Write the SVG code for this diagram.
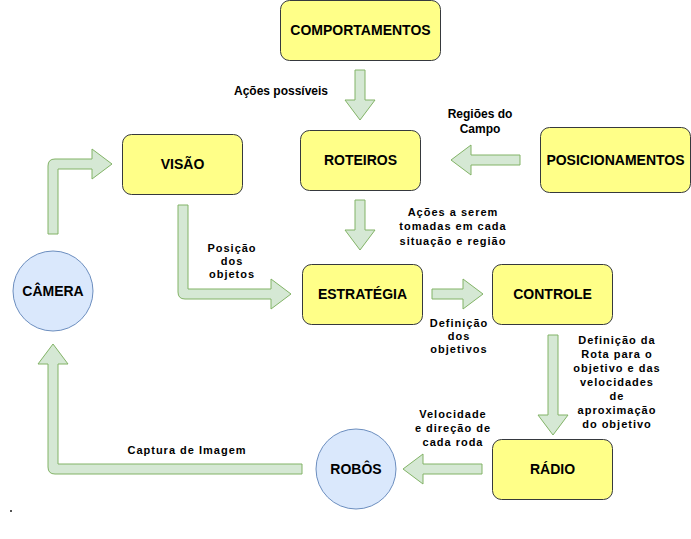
<svg xmlns="http://www.w3.org/2000/svg" width="691" height="539" viewBox="0 0 691 539">
<style>
.box{fill:#ffff88;stroke:#36393d;stroke-width:1}
.circ{fill:#dae8fc;stroke:#6c8ebf;stroke-width:1}
.arr{fill:#d5e8d4;stroke:#82b366;stroke-width:1;stroke-linejoin:miter}
.nl{font-family:"Liberation Sans",Arial,sans-serif;font-weight:bold;font-size:14px;fill:#000;text-anchor:middle}
.el{font-family:"Liberation Sans",Arial,sans-serif;font-weight:bold;font-size:11px;fill:#000;text-anchor:middle;letter-spacing:1px}
.el2{font-family:"Liberation Sans",Arial,sans-serif;font-weight:bold;font-size:12px;fill:#000;text-anchor:middle}
</style>
<rect width="691" height="539" fill="#ffffff"/>
<g id="connectors">
<polygon class="arr" points="355,70 365,70 365,100 375,100 360,120 345,100 355,100"/>
<polygon class="arr" points="520,155 520,165 471,165 471,175 451,160 471,145 471,155"/>
<polygon class="arr" points="355,200 365,200 365,230 375,230 360,250 345,230 355,230"/>
<path class="arr" d="M178,205 L188,205 L188,289 L271,289 L271,279 L291,294 L271,309 L271,299 L185,299 Q178,299 178,292 Z"/>
<path class="arr" d="M48,234 L48,166 Q48,159 55,159 L92,159 L92,149 L112,164 L92,179 L92,169 L58,169 L58,234 Z"/>
<polygon class="arr" points="432,289 463,289 463,279 483,294 463,309 463,299 432,299"/>
<polygon class="arr" points="548,335 558,335 558,415 568,415 553,435 538,415 548,415"/>
<polygon class="arr" points="482,464 482,474 423,474 423,484 403,469 423,454 423,464"/>
<path class="arr" d="M302,464 L302,474 L55,474 Q48,474 48,467 L48,364 L38,364 L53,344 L68,364 L58,364 L58,464 Z"/>
</g>
<g id="lbl-acoes-possiveis"><text class="el2" x="281" y="95">Ações possíveis</text></g>
<g id="lbl-regioes"><text class="el2" x="480" y="118">Regiões do</text><text class="el2" x="480" y="133">Campo</text></g>
<g id="lbl-acoes-serem"><text class="el" x="453" y="216">Ações a serem</text><text class="el" x="453" y="230">tomadas em cada</text><text class="el" x="453" y="245">situação e região</text></g>
<g id="lbl-posicao"><text class="el" x="232" y="252">Posição</text><text class="el" x="232" y="265">dos</text><text class="el" x="232" y="278">objetos</text></g>
<g id="lbl-definicao"><text class="el" x="459" y="327">Definição</text><text class="el" x="459" y="340">dos</text><text class="el" x="459" y="353">objetivos</text></g>
<g id="lbl-rota"><text class="el" x="617" y="344">Definição da</text><text class="el" x="617" y="358">Rota para o</text><text class="el" x="617" y="372">objetivo e das</text><text class="el" x="617" y="386">velocidades</text><text class="el" x="617" y="400">de</text><text class="el" x="617" y="414">aproximação</text><text class="el" x="617" y="428">do objetivo</text></g>
<g id="lbl-velocidade"><text class="el" x="453" y="418">Velocidade</text><text class="el" x="453" y="432">e direção de</text><text class="el" x="453" y="446">cada roda</text></g>
<g id="lbl-captura"><text class="el" x="187" y="454">Captura de Imagem</text></g>
<g id="comportamentos"><rect class="box" x="280.5" y="0.5" width="160" height="60" rx="9"/><text class="nl" x="360.5" y="35">COMPORTAMENTOS</text></g>
<g id="roteiros"><rect class="box" x="300.5" y="130.5" width="120" height="60" rx="9"/><text class="nl" x="360.5" y="165">ROTEIROS</text></g>
<g id="visao"><rect class="box" x="122.5" y="134.5" width="120" height="60" rx="9"/><text class="nl" x="182.5" y="169">VISÃO</text></g>
<g id="posicionamentos"><rect class="box" x="540.5" y="127.5" width="150" height="65" rx="9"/><text class="nl" x="615.5" y="165">POSICIONAMENTOS</text></g>
<g id="estrategia"><rect class="box" x="302.5" y="264.5" width="120" height="60" rx="9"/><text class="nl" x="362.5" y="299">ESTRATÉGIA</text></g>
<g id="controle"><rect class="box" x="492.5" y="264.5" width="120" height="60" rx="9"/><text class="nl" x="552.5" y="299">CONTROLE</text></g>
<g id="radio"><rect class="box" x="492.5" y="439.5" width="120" height="60" rx="9"/><text class="nl" x="552.5" y="474">RÁDIO</text></g>
<g id="camera"><circle class="circ" cx="53" cy="291" r="40"/><text class="nl" x="53" y="296">CÂMERA</text></g>
<g id="robos"><circle class="circ" cx="356" cy="469" r="40"/><text class="nl" x="356" y="474">ROBÔS</text></g>
<rect x="10" y="510" width="2" height="2" fill="#555"/>
</svg>
